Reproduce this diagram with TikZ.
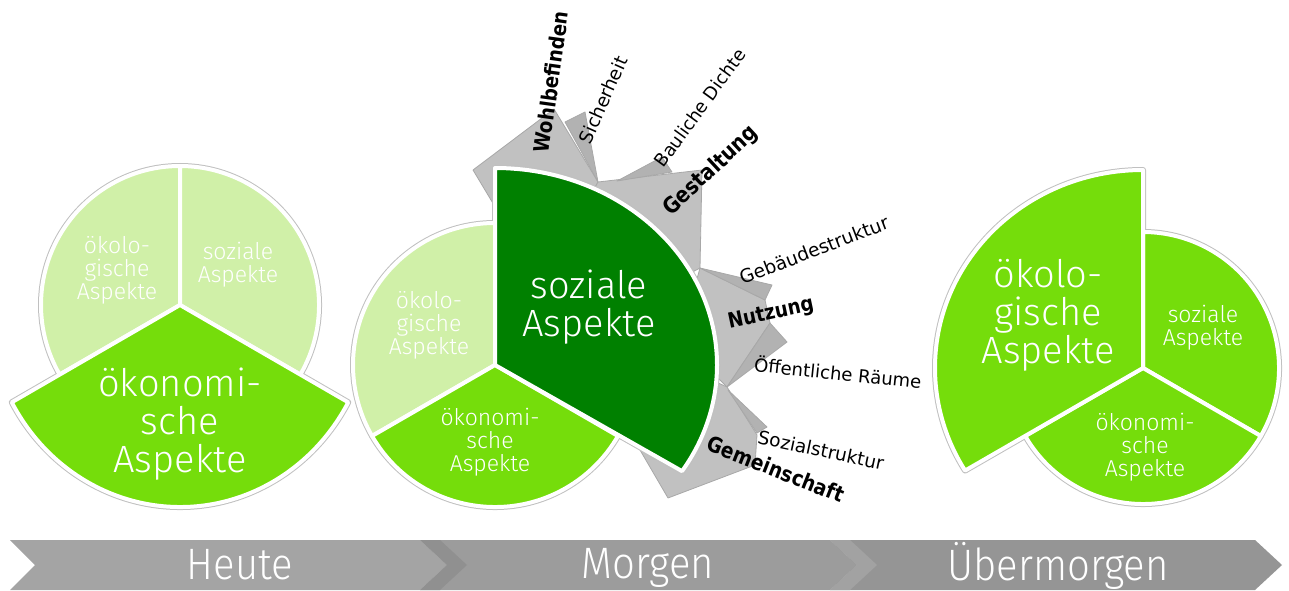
\documentclass[tikz,border=0pt]{standalone}
\usepackage{fontspec}
\usepackage{graphicx}
\newfontfamily\lightfont{Fira Sans Light}
\newfontfamily\labfont{DejaVu Sans}
\definecolor{lgreen}{RGB}{208,240,168}
\definecolor{bgreen}{RGB}{117,221,11}
\definecolor{dgreen}{RGB}{0,128,0}
\definecolor{fanlight}{RGB}{193,193,193}
\definecolor{fandark}{RGB}{178,178,178}
\definecolor{fanedge}{RGB}{168,168,168}
\definecolor{rimgray}{RGB}{192,192,192}
\definecolor{chevA}{RGB}{164,164,164}
\definecolor{chevB}{RGB}{156,156,156}
\definecolor{chevC}{RGB}{149,149,149}
\definecolor{bandAB}{RGB}{144,144,144}
\definecolor{bandBC}{RGB}{162,162,162}
\newcommand\pieseg[6]{%
  \draw[#6] #1 -- ++(#2:#4 and #5) arc[start angle=#2,end angle=#3,x radius=#4,y radius=#5] -- cycle;}
\newcommand\boldlbl[2]{\scalebox{1}[1.15]{\resizebox{#1}{!}{\bfseries #2}}}
\newcommand\reglbl[2]{\resizebox{#1}{!}{#2}}
\tikzset{
  rim/.style={draw=rimgray, line width=3pt, line join=round},
  segL/.style={fill=lgreen, draw=white, line width=2pt, line join=round},
  segB/.style={fill=bgreen, draw=white, line width=2pt, line join=round},
  segD/.style={fill=dgreen, draw=white, line width=2pt, line join=round},
  wsmall/.style={text=white, align=center, inner sep=0pt, font=\lightfont\fontsize{11.5}{11.5}\selectfont},
  wbig/.style={text=white, align=center, inner sep=0pt, font=\lightfont\fontsize{19}{19}\selectfont},
  fanA/.style={fill=fanlight, draw=fanedge, line width=0.4pt, line join=round},
  fanB/.style={fill=fandark, draw=fanedge, line width=0.4pt, line join=round},
  lab/.style={text=black, inner sep=0pt, font=\labfont},
  ctext/.style={text=white, inner sep=0pt, font=\lightfont\fontsize{22}{22}\selectfont}
}
\begin{document}
\begin{tikzpicture}[x=0.5pt, y=0.5pt]
\useasboundingbox (0,0) rectangle (1289,590);

% ---------- bottom chevrons ----------
\fill[chevA] (10,50) -- (420,50) -- (447,25) -- (420,0) -- (10,0) -- (35,25) -- cycle;
\fill[chevB] (420,50) -- (830,50) -- (857,25) -- (830,0) -- (420,0) -- (447,25) -- cycle;
\fill[chevC] (830,50) -- (1255,50) -- (1282,25) -- (1255,0) -- (830,0) -- (857,25) -- cycle;
\fill[bandAB] (420,50) -- (440,50) -- (467,25) -- (440,0) -- (420,0) -- (447,25) -- cycle;
\fill[bandBC] (830,50) -- (850,50) -- (877,25) -- (850,0) -- (830,0) -- (857,25) -- cycle;
\node[ctext] (heute) at (240,25) {\scalebox{0.91}[1]{Heute}};
\node[ctext] (morgen) at (648,22) {\scalebox{0.91}[1]{Morgen}};
\node[ctext] (uebermorgen) at (1058,24) {\scalebox{0.91}[1]{Übermorgen}};

% ---------- left pie (Heute) ----------
\pieseg{(180,285)}{90}{210}{139}{139}{rim}
\pieseg{(180,285)}{-30}{90}{139}{139}{rim}
\pieseg{(180,285)}{208.8}{331.2}{192}{202}{rim}
\pieseg{(180,285)}{90}{210}{139}{139}{segL}
\pieseg{(180,285)}{-30}{90}{139}{139}{segL}
\pieseg{(180,285)}{208.8}{331.2}{192}{202}{segB}
\node[wsmall] (l-oeko) at (117,320) {ökolo-\\gische\\Aspekte};
\node[wsmall] (l-soz) at (238,325) {soziale\\Aspekte};
\node[wbig] (l-oek) at (180,166) {ökonomi-\\sche\\Aspekte};

% ---------- gray fan (Morgen) ----------
\fill[fanA] (473,420) -- (554,481) -- (598,408) -- (560,330) -- (500,375) -- cycle;
\fill[fanB] (565,468) -- (585,478) -- (598,408) -- cycle;
\fill[fanA] (598,408) -- (702,420) -- (700,322) -- (640,290) -- (560,340) -- cycle;
\fill[fanB] (617,409) -- (662,433) -- (672,418) -- cycle;
\fill[fanA] (700,322) -- (765,290) -- (770,267) -- (727,203) -- (680,250) -- cycle;
\fill[fanB] (700,322) -- (772,305) -- (765,290) -- cycle;
\fill[fanB] (770,267) -- (787,248) -- (727,203) -- cycle;
\fill[fanA] (727,203) -- (757,155) -- (755,125) -- (668,92) -- (640,140) -- (690,220) -- cycle;
\fill[fanB] (728,200) -- (767,163) -- (757,157) -- cycle;

% ---------- middle pie ----------
\pieseg{(495,225)}{90}{210}{142}{142}{rim}
\pieseg{(495,225)}{210}{330}{142}{142}{rim}
\pieseg{(495,225)}{90}{-32.6}{222}{197}{rim}
\pieseg{(495,225)}{90}{210}{142}{142}{segL}
\pieseg{(495,225)}{210}{330}{142}{142}{segB}
\pieseg{(495,225)}{90}{-32.6}{222}{197}{segD}
\node[wsmall] (m-oeko) at (429,265) {ökolo-\\gische\\Aspekte};
\node[wsmall] (m-oek) at (490,148) {ökonomi-\\sche\\Aspekte};
\node[wbig] (m-soz) at (589,283) {soziale\\Aspekte};

% ---------- fan labels ----------
\node[lab, rotate=82] (wohl) at (551,508) {\boldlbl{71pt}{Wohlbefinden}};
\node[lab, rotate=66] (sich) at (603,490) {\reglbl{46.5pt}{Sicherheit}};
\node[lab, rotate=54] (baul) at (700,482) {\reglbl{70.5pt}{Bauliche Dichte}};
\node[lab, rotate=43] (gest) at (711,419) {\boldlbl{60pt}{Gestaltung}};
\node[lab, rotate=21] (geb) at (814,340) {\reglbl{79pt}{Gebäudestruktur}};
\node[lab, rotate=12] (nutz) at (771,276) {\boldlbl{43.5pt}{Nutzung}};
\node[lab, rotate=-6] (oeff) at (838,218) {\reglbl{84pt}{Öffentliche Räume}};
\node[lab, rotate=-12] (sozs) at (821,140) {\reglbl{64pt}{Sozialstruktur}};
\node[lab, rotate=-21.5] (gem) at (776,121) {\boldlbl{72.5pt}{Gemeinschaft}};

% ---------- right pie (Übermorgen) ----------
\pieseg{(1143,222)}{-30}{90}{136}{136}{rim}
\pieseg{(1143,222)}{210}{330}{136}{136}{rim}
\pieseg{(1143,222)}{90}{211.2}{208}{198}{rim}
\pieseg{(1143,222)}{-30}{90}{136}{136}{segB}
\pieseg{(1143,222)}{210}{330}{136}{136}{segB}
\pieseg{(1143,222)}{90}{211.2}{208}{198}{segB}
\node[wbig] (r-oeko) at (1048,275) {ökolo-\\gische\\Aspekte};
\node[wsmall] (r-soz) at (1203,262) {soziale\\Aspekte};
\node[wsmall] (r-oek) at (1145,143) {ökonomi-\\sche\\Aspekte};
\end{tikzpicture}
\end{document}
